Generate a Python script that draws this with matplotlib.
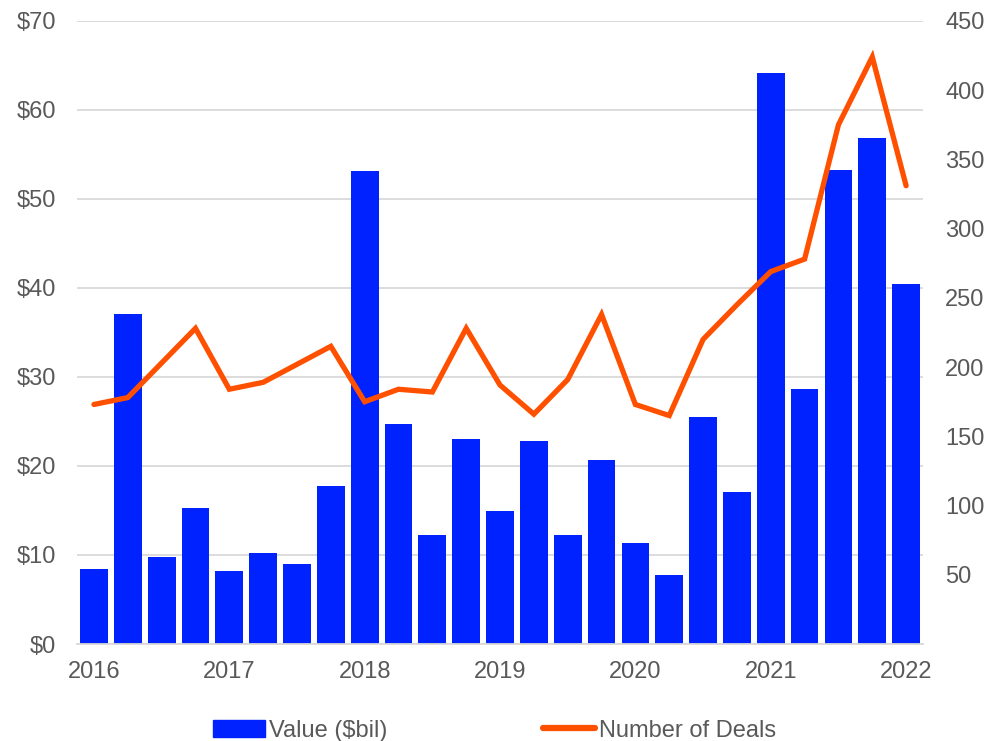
import matplotlib
matplotlib.use("Agg")
import matplotlib.pyplot as plt
import numpy as np
from matplotlib.lines import Line2D
from matplotlib.patches import Patch

plt.rcParams['font.family'] = ['Liberation Sans', 'DejaVu Sans']

quarters = ["2016Q1","2016Q2","2016Q3","2016Q4","2017Q1","2017Q2","2017Q3","2017Q4",
            "2018Q1","2018Q2","2018Q3","2018Q4","2019Q1","2019Q2","2019Q3","2019Q4",
            "2020Q1","2020Q2","2020Q3","2020Q4","2021Q1","2021Q2","2021Q3","2021Q4","2022Q1"]
value_bil = [8.4, 37.1, 9.8, 15.3, 8.2, 10.2, 9.0, 17.8,
             53.1, 24.7, 12.2, 23.0, 14.9, 22.8, 12.3, 20.7,
             11.4, 7.7, 25.5, 17.1, 64.1, 28.6, 53.2, 56.9, 40.4]
num_deals = [173, 178, 203, 228, 184, 189, 202, 215,
             175, 184, 182, 228, 187, 166, 191, 238,
             173, 165, 220, 245, 269, 278, 375, 424, 331]
year_labels = ["2016", "2017", "2018", "2019", "2020", "2021", "2022"]

grey = "#595959"
blue = "#0022FF"
orange = "#FF5000"

fig = plt.figure(figsize=(9.89, 7.41), dpi=100)
ax = fig.add_axes([0.0779, 0.1309, 0.8554, 0.8408])
x = np.arange(len(quarters))
ax.bar(x, value_bil, width=0.82, color=blue, zorder=2)
ax.set_xlim(-0.5, len(quarters) - 0.5)
ax.set_ylim(0, 70)
ax.set_yticks(np.arange(0, 71, 10))
ax.set_yticklabels([f"${v}" for v in range(0, 71, 10)])
ax.yaxis.grid(True, color="#d9d9d9", linewidth=1.3, zorder=0)
ax.set_axisbelow(True)
ax.set_xticks(x[::4])
ax.set_xticklabels(year_labels)
for s in ["top", "right", "left"]:
    ax.spines[s].set_visible(False)
ax.spines["bottom"].set_color("#d9d9d9")
ax.spines["bottom"].set_linewidth(1.3)
ax.tick_params(axis="both", length=0, labelsize=17, colors=grey)
ax.tick_params(axis="x", pad=12)
ax.tick_params(axis="y", pad=15)

ax2 = ax.twinx()
ax2.plot(x, num_deals, color=orange, linewidth=3.8, solid_capstyle="round",
         solid_joinstyle="miter", zorder=3)
ax2.set_ylim(0, 450)
ax2.set_yticks(np.arange(50, 451, 50))
for s in ["top", "right", "left", "bottom"]:
    ax2.spines[s].set_visible(False)
ax2.tick_params(axis="y", length=0, labelsize=17, colors=grey, pad=16)

handles = [Patch(facecolor=blue, edgecolor=blue),
           Line2D([0], [0], color=orange, linewidth=4.5, solid_capstyle="round")]
fig.legend(handles, ["Value ($bil)", "Number of Deals"], loc="center",
           bbox_to_anchor=(0.5, 0.014), ncol=2, frameon=False, fontsize=17,
           labelcolor=grey, handlelength=2.2, handletextpad=0.15, columnspacing=6.6)

fig.savefig("out.png", dpi=100)
